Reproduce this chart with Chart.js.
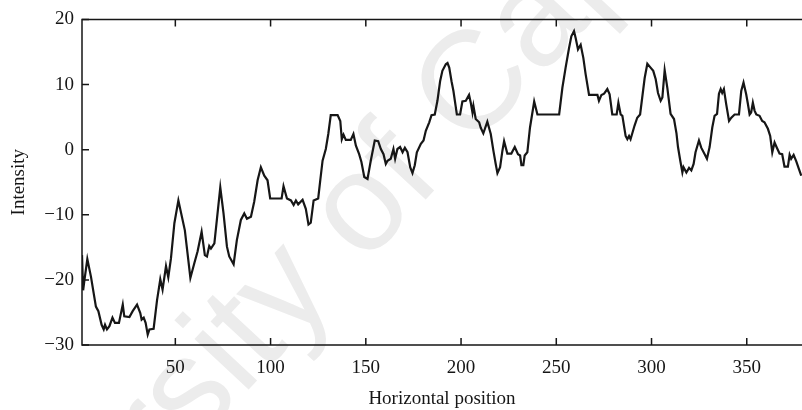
<!DOCTYPE html>
<html><head><meta charset="utf-8">
<script src="https://cdn.jsdelivr.net/npm/chart.js@4.4.0/dist/chart.umd.min.js"></script>
<style>html,body{margin:0;padding:0;background:#fff;overflow:hidden}#wrap{width:802px;height:410px;position:relative}</style>
</head><body><div id="wrap"><canvas id="c" width="802" height="410"></canvas></div>
<script>
const positions = [
1,1.6,2.3,3.8,5.7,7.1,8.3,9.6,11.3,12.4,13.1,14.1,15.4,17,18.3,20.4,22.4,23.2,25.9,27.6,29.9,31.6,32.3,33.4,34.4,35.5,36.4,38.6,40.4,42.1,43.3,45.1,46.3,47.7,49.5,51.6,55,57.9,60,
61.7,63.8,65.5,66.6,67.8,68.7,70.5,71.8,73.6,75.3,77.1,78.3,80.6,82.3,84.4,86.2,87.6,89.7,91.4,93.2,94.9,96.7,98.4,99.8,105.8,106.8,108.6,110.7,112.1,113.3,114.5,116.8,118.5,119.9,121.1,122.6,125,
126.1,127.3,129,130.3,131.6,135.2,136.6,137.4,138.3,139.5,142.1,143.5,144.8,146.5,147.7,149.2,150.9,152.6,154.7,156.5,157.9,159.3,160.5,161.4,163.1,164.5,165.4,166.6,168,169.3,170.5,171.9,173.3,174.5,175.7,176.8,178.9,180.3,181.5,183.3,184.5,186.2,
187.6,189,190.2,192,192.9,193.8,195,196,197.8,199.5,200.7,202.5,204.2,205.1,206,206.5,207.7,209.5,210.3,211.7,213.8,215.6,217,218.2,219.1,220.5,221.7,222.6,224.3,226.4,228.2,229.9,231,231.7,232.7,233.4,234.8,236.2,238.4,240.1,251.5,
253.2,254.9,256.7,257.9,259.3,260.2,261.4,262.8,264.2,265.4,267.2,271.6,272.4,273.7,275.1,276.8,278,279.4,281.7,282.6,283.8,284.7,286.4,287.3,288.2,289,291.1,292.5,294,295.2,296.4,297.8,299.5,300.9,302.2,303.4,304.8,305.7,306.9,308.3,310,311.8,313.1,
313.9,315.1,316.2,316.8,318.3,319.7,320.9,322.1,323.1,324.9,326.1,327.9,329.1,330.5,331.9,333.1,334.4,335.4,336.3,337.1,338,339.2,340.7,341.9,343.6,345.9,347.1,348.3,349.7,350.6,351.5,352.3,353.2,354.1,355,356.7,358.1,359.3,361.1,362.3,363.4,364.6,365.8,367.2,368.6,369.8,371.6,372.5,373.3,374.6,376,377.4,378.6
];
const intensity = [
-16.2,-21.6,-20,-16.8,-19.5,-22,-24.1,-24.8,-26.9,-27.6,-26.9,-27.6,-27.1,-25.8,-26.6,-26.6,-23.8,-25.6,-25.7,-24.8,-23.8,-25.1,-26.1,-25.8,-26.6,-28.4,-27.6,-27.5,-23.1,-19.9,-21.5,-17.9,-19.6,-16.7,-11.3,-7.8,-12.4,-19.7,-17.4,
-15.6,-12.6,-16.2,-16.4,-14.8,-15.2,-14.4,-10.8,-5.8,-9.8,-14.9,-16.4,-17.6,-13.9,-10.8,-9.8,-10.6,-10.3,-8,-4.7,-2.7,-4,-4.7,-7.5,-7.5,-5.6,-7.5,-7.8,-8.5,-7.8,-8.4,-7.7,-9.1,-11.5,-11.2,-7.8,-7.5,
-4.7,-1.7,0.1,2.4,5.3,5.3,4.4,1.6,2.3,1.5,1.5,2.4,0.6,-0.7,-1.9,-4.2,-4.5,-1.7,1.4,1.3,0.1,-0.7,-2.2,-1.7,-1.4,0.1,-1.4,0.1,0.4,-0.4,0.3,-0.4,-2.7,-3.6,-2.4,-0.4,0.9,1.4,2.9,4.2,5.3,5.4,
7.5,10.5,12.1,13.1,13.3,12.6,10.5,9,5.4,5.4,7.4,7.5,8.4,7.2,5.7,6.7,4.7,4.2,3.4,2.5,4.3,2.4,-0.2,-2.2,-3.6,-2.7,-0.2,1.3,-0.6,-0.6,0.4,-0.7,-0.9,-2.4,-2.4,-0.9,-0.4,3.4,7.4,5.4,5.4,
9.5,12.6,15.6,17.4,18.2,17.1,15.4,16.1,14.1,11.6,8.4,8.4,7.5,8.4,8.6,9.3,8.5,5.4,5.4,7.2,5.4,5.2,2.1,1.6,2.1,1.6,3.7,4.9,5.4,8.2,11,13.2,12.6,12.1,10.8,8.7,7.5,8,12.2,9.5,5.5,4.7,2.5,
0.4,-1.7,-3.5,-2.7,-3.5,-2.8,-3.2,-2.2,-0.4,1.4,0.3,-0.7,-1.4,0.4,3.4,5.2,5.5,8.6,9.3,8.7,9.3,7,4.4,4.9,5.4,5.4,9,10.3,8.5,7,5.4,5.7,7.2,6,5.4,5.2,4.4,4.2,3.2,2.1,-0.4,1.1,0.3,-0.6,-0.7,-2.6,-2.6,-0.8,-1.4,-0.8,-1.8,-3,-4
];
const xTickValues = [50,100,150,200,250,300,350];
const yTickValues = [-30,-20,-10,0,10,20];
const xLabel = 'Horizontal position';
const yLabel = 'Intensity';
const watermarkText = 'University of Cape Town';

const serif = '"Liberation Serif", "DejaVu Serif", serif';
const ink = '#161616';

const framePlugin = {
  id: 'frame',
  beforeDraw(chart) {
    const ctx = chart.ctx;
    ctx.save();
    ctx.translate(405, 165);
    ctx.rotate(-47 * Math.PI / 180);
    ctx.font = '140px "Liberation Sans", Arial, sans-serif';
    ctx.fillStyle = '#ececec';
    ctx.textAlign = 'center';
    ctx.textBaseline = 'middle';
    ctx.fillText(watermarkText, 0, 0);
    ctx.restore();
  },
  afterDatasetsDraw(chart) {
    const {ctx, chartArea: a, scales: {x, y}} = chart;
    ctx.save();
    ctx.strokeStyle = ink;
    ctx.lineWidth = 1.5;
    ctx.beginPath();
    ctx.moveTo(a.right + 2, a.top); ctx.lineTo(a.left, a.top);
    ctx.lineTo(a.left, a.bottom); ctx.lineTo(a.right + 2, a.bottom);
    ctx.stroke();
    const tl = 7;
    ctx.beginPath();
    xTickValues.forEach(v => {
      const px = x.getPixelForValue(v);
      ctx.moveTo(px, a.bottom); ctx.lineTo(px, a.bottom - tl);
      ctx.moveTo(px, a.top); ctx.lineTo(px, a.top + tl);
    });
    yTickValues.forEach(v => {
      const py = y.getPixelForValue(v);
      ctx.moveTo(a.left, py); ctx.lineTo(a.left + tl, py);
    });
    ctx.stroke();
    ctx.restore();
  }
};

new Chart(document.getElementById('c'), {
  type: 'line',
  data: {
    datasets: [{
      data: positions.map((p, i) => ({x: p, y: intensity[i]})),
      borderColor: ink,
      borderWidth: 2.2,
      pointRadius: 0,
      tension: 0,
      fill: false
    }]
  },
  options: {
    responsive: false,
    animation: false,
    events: [],
    layout: {padding: {top: 18, right: 0, left: 0, bottom: 0}},
    plugins: {legend: {display: false}, tooltip: {enabled: false}},
    scales: {
      x: {
        type: 'linear', min: 1, max: 379,
        afterBuildTicks: s => { s.ticks = xTickValues.map(v => ({value: v})); },
        afterFit: s => { s.height = 65; },
        grid: {display: false, drawTicks: false},
        border: {display: false},
        ticks: {color: ink, font: {family: serif, size: 19}, padding: 12, maxRotation: 0, autoSkip: false},
        title: {display: true, text: xLabel, color: ink, font: {family: serif, size: 19}, padding: {top: 0, bottom: 0}}
      },
      y: {
        type: 'linear', min: -30, max: 20,
        afterBuildTicks: s => { s.ticks = yTickValues.map(v => ({value: v})); },
        afterFit: s => { s.width = 82; },
        grid: {display: false, drawTicks: false},
        border: {display: false},
        ticks: {color: ink, font: {family: serif, size: 19}, padding: 8,
          callback: v => String(v).replace('-', '\u2212')},
        title: {display: true, text: yLabel, color: ink, font: {family: serif, size: 19}, padding: {top: 8, bottom: 0}}
      }
    }
  },
  plugins: [framePlugin]
});
</script></body></html>
